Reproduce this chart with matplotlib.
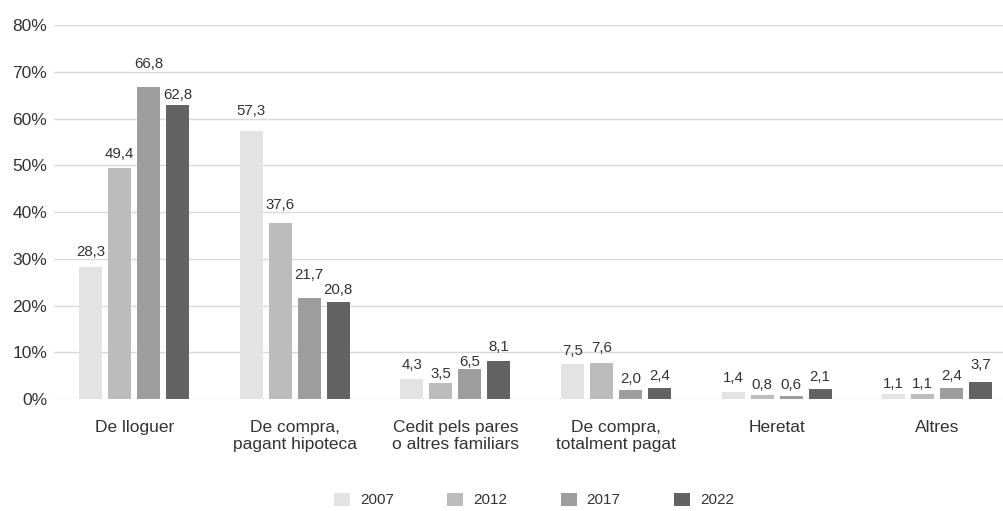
import matplotlib.pyplot as plt
import numpy as np

plt.rcParams['font.family'] = ['Liberation Sans', 'DejaVu Sans']

categories = ['De lloguer', 'De compra,\npagant hipoteca', 'Cedit pels pares\no altres familiars',
              'De compra,\ntotalment pagat', 'Heretat', 'Altres']
years = ['2007', '2012', '2017', '2022']
v2007 = [28.3, 57.3, 4.3, 7.5, 1.4, 1.1]
v2012 = [49.4, 37.6, 3.5, 7.6, 0.8, 1.1]
v2017 = [66.8, 21.7, 6.5, 2.0, 0.6, 2.4]
v2022 = [62.8, 20.8, 8.1, 2.4, 2.1, 3.7]
colors = ['#e3e3e3', '#bcbcbc', '#9d9d9d', '#636363']

# gap (pixels) between bar top and label baseline, as in the original
label_gaps = [[11, 16, 10, 9, 10, 6],
              [10, 14, 5, 11, 6, 6],
              [19, 19, 3, 7, 7, 8],
              [6, 8, 10, 8, 8, 13]]

fig = plt.figure(figsize=(10.04, 5.11), dpi=100)
ax = fig.add_axes([54 / 1004, 1 - 399 / 511, 1 - 54 / 1004, (399 - 25) / 511])

x = np.arange(len(categories))
width = 0.143
step = 0.1806
series = [v2007, v2012, v2017, v2022]
for i, vals in enumerate(series):
    pos = x + (i - 1.5) * step
    bars = ax.bar(pos, vals, width, color=colors[i], label=years[i], zorder=3)
    for b, v, g in zip(bars, vals, label_gaps[i]):
        ax.annotate(('%.1f' % v).replace('.', ','), (b.get_x() + b.get_width() / 2, v),
                    xytext=(0, g), textcoords='offset pixels',
                    ha='center', va='baseline', fontsize=10.8, color='#333333')

ax.set_xlim(-0.5, 5.416)
ax.set_ylim(0, 80)
ax.set_yticks(range(0, 81, 10))
ax.set_yticklabels(['%d%%' % t for t in range(0, 81, 10)])
ax.set_xticks(x)
ax.set_xticklabels(categories, linespacing=1.2)
ax.yaxis.grid(True, color='#d9d9d9', linewidth=1, zorder=0)
for s in ax.spines.values():
    s.set_visible(False)
ax.tick_params(axis='both', length=0, labelsize=12.5, colors='#333333')
ax.tick_params(axis='y', pad=5)
ax.tick_params(axis='x', pad=15)

fig.legend(loc='center', bbox_to_anchor=(534 / 1004, 1 - 500 / 511), ncol=4, frameon=False,
           fontsize=11, handlelength=1.05, handleheight=0.95, columnspacing=3.5,
           handletextpad=0.65, labelcolor='#333333')

fig.savefig('out.png', dpi=100)
